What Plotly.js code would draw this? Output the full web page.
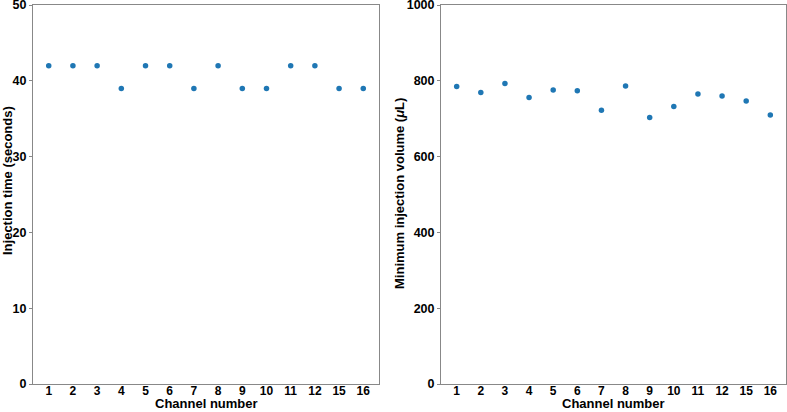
<!DOCTYPE html>
<html>
<head>
<script src="https://cdn.plot.ly/plotly-3.0.1.min.js"></script>
<style>html,body{margin:0;padding:0;background:#fff;}#chart{width:787px;height:412px;}</style>
</head>
<body>
<div id="chart"></div>
<script>
const channels = ["1","2","3","4","5","6","7","8","9","10","11","12","15","16"];
const injectionTime = [42,42,42,39,42,42,39,42,39,39,42,42,39,39];
const minVolume = [785,769,793,756,776,774,722,786,703,732,765,760,747,710];
const xTitle = "Channel number";
const yTitleLeft = "Injection time (seconds)";
const yTitleRight = "Minimum injection volume (<i>μ</i>L)";

const FONT = 'Liberation Sans, Arial, sans-serif';
const marker = {color:'#1f77b4', size:5.5};
const traces = [
  {x:channels, y:injectionTime, type:'scatter', mode:'markers', marker:marker, xaxis:'x', yaxis:'y'},
  {x:channels, y:minVolume, type:'scatter', mode:'markers', marker:marker, xaxis:'x2', yaxis:'y2'}
];
const tickfont = {family:FONT, size:12.5, color:'#000', weight:'bold'};
const xtickfont = {family:FONT, size:12, color:'#000', weight:'bold'};
const titlefont = {family:FONT, size:13, color:'#000', weight:'bold'};
function xax(domain, anchor){
  return {domain:domain, anchor:anchor, type:'category', range:[-0.65,13.65],
    showline:true, mirror:true, linecolor:'#888', linewidth:1, showgrid:false, zeroline:false,
    ticks:'', tickfont:xtickfont, automargin:false, ticklabelstandoff:-4};
}
function yax(domain, anchor, range, dtick){
  return {domain:domain, anchor:anchor, range:range, dtick:dtick,
    showline:true, mirror:true, linecolor:'#888', linewidth:1, showgrid:false, zeroline:false,
    ticks:'outside', ticklen:3, tickcolor:'#888', tickfont:tickfont, automargin:false,
    ticklabeloverflow:'allow'};
}
const layout = {
  width:787, height:412, margin:{l:0,r:0,t:0,b:0},
  paper_bgcolor:'#fff', plot_bgcolor:'#fff', showlegend:false, font:{family:FONT, color:'#000'},
  xaxis: xax([33/787,379/787],'y'),
  yaxis: yax([28/412,407/412],'x',[0,50],10),
  xaxis2: xax([441/787,786/787],'y2'),
  yaxis2: yax([28/412,407/412],'x2',[0,1000],200),
  annotations: [
    {text:'<b>'+xTitle+'</b>', xref:'paper', yref:'paper', x:(33+379)/2/787, y:0, xanchor:'center', yanchor:'bottom', borderpad:0, showarrow:false, font:titlefont},
    {text:'<b>'+xTitle+'</b>', xref:'paper', yref:'paper', x:(441+786)/2/787, y:0, xanchor:'center', yanchor:'bottom', borderpad:0, showarrow:false, font:titlefont},
    {text:'<b>'+yTitleLeft+'</b>', xref:'paper', yref:'paper', x:7/787, y:1-181/412, xanchor:'center', yanchor:'middle', textangle:-90, showarrow:false, font:titlefont},
    {text:'<b>'+yTitleRight+'</b>', xref:'paper', yref:'paper', x:399/787, y:1-194/412, xanchor:'center', yanchor:'middle', textangle:-90, showarrow:false, font:titlefont}
  ]
};
Plotly.newPlot('chart', traces, layout, {displayModeBar:false, staticPlot:true});
</script>
</body>
</html>
